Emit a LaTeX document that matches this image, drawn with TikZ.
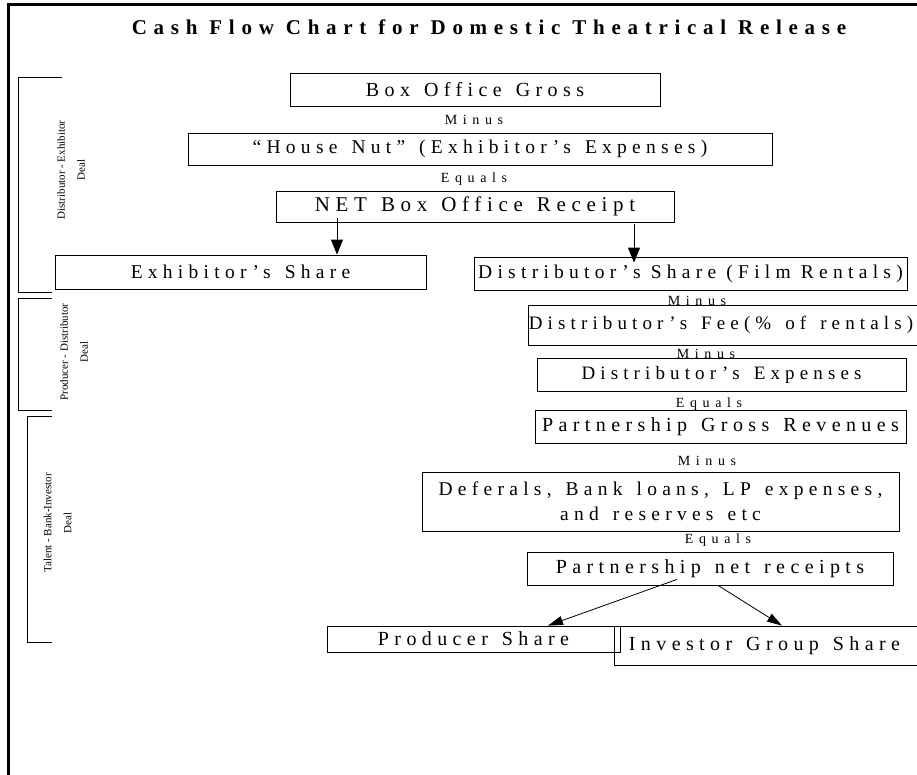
\documentclass[tikz,border=0pt]{standalone}
\usepackage{fontspec}
\setmainfont{Liberation Serif}
\newfontfamily\spacedfont[LetterSpace=27]{Liberation Serif}
\newfontfamily\opfont[LetterSpace=40]{Liberation Serif}
\newfontfamily\headfont[LetterSpace=32]{Liberation Serif}
\usetikzlibrary{arrows.meta}
\newcommand\nb[1]{\makebox[0pt][c]{#1}}
% box lettering at a given size, with widened word gaps
\newcommand\boxsize[1]{\spacedfont\fontsize{#1}{25}\selectfont\spaceskip=14pt\relax}
% same lettering with the font's own word gaps
\newcommand\tightsize[1]{\spacedfont\fontsize{#1}{25}\selectfont}
\tikzset{
  flowbox/.style={draw=black, line width=0.8pt, inner sep=0pt, anchor=center,
    font=\boxsize{20}},
  oplabel/.style={inner sep=0pt, anchor=center, font=\opfont\fontsize{14}{16}\selectfont},
  deallabel/.style={inner sep=0pt, anchor=center, rotate=90, align=center,
    font=\fontsize{11}{20}\selectfont},
  bracket/.style={draw=black, line width=0.8pt},
  bigarrow/.style={draw=black, line width=0.9pt, -{Triangle[length=15pt,width=12pt]}},
  smallarrow/.style={draw=black, line width=0.8pt, -{Triangle[length=15pt,width=9pt]}},
  frame/.style={draw=black, line width=3pt}
}
\begin{document}
\begin{tikzpicture}[x=1pt, y=-1pt]
\useasboundingbox (0,0) rectangle (917,775);
% outer frame: left and top edges
\draw[frame] (8,775) -- (8,5) -- (917,5);

% title
\node[inner sep=0pt, font=\headfont\bfseries\fontsize{21}{24}\selectfont] (title) at (489,27)
  {Cash Flow Chart for Domestic Theatrical Release};

% flow boxes
\node[flowbox, minimum width=370pt, minimum height=33pt] (bog) at (475,89.5) {\nb{Box Office Gross}};
\node[oplabel] (m1) at (474,120) {Minus};
\node[flowbox, minimum width=584pt, minimum height=32pt, font=\boxsize{19.5}] (nut) at (480,149) {\nb{“House Nut” (Exhibitor’s Expenses)}};
\node[oplabel] (e1) at (474,179) {Equals};
\node[flowbox, minimum width=398pt, minimum height=31pt, font=\boxsize{21}] (net) at (475,206.5) {\nb{NET Box Office Receipt}};

\node[flowbox, minimum width=371pt, minimum height=34pt, font=\boxsize{19.5}] (exh) at (240.5,272) {\nb{Exhibitor’s Share}};
\node[flowbox, minimum width=433pt, minimum height=33pt, font=\tightsize{19.5}] (dsh) at (690.5,273.5) {\nb{Distributor’s Share (Film Rentals)}};

\node[oplabel] (m2) at (697,301) {Minus};
\node[flowbox, minimum width=402pt, minimum height=40pt, font=\boxsize{19}] (fee) at (729,325) {\nb{\hspace{-16pt}Distributor’s Fee(\% of rentals)}};
\node[oplabel] (m3) at (706,354) {Minus};
\node[flowbox, minimum width=369pt, minimum height=33pt, font=\boxsize{19}] (dexp) at (721.5,374.5) {\nb{Distributor’s Expenses}};
\node[oplabel] (e2) at (709,404) {Equals};
\node[flowbox, minimum width=371pt, minimum height=33pt] (pgr) at (720.5,426.5) {\nb{Partnership Gross Revenues}};
\node[oplabel] (m4) at (707,461) {Minus};
\node[flowbox, minimum width=477pt, minimum height=59pt, align=center, font=\boxsize{19.5}] (def) at (660.5,501.5)
  {Deferals, Bank loans, LP expenses,\\and reserves etc};
\node[oplabel] (e3) at (718,540) {Equals};
\node[flowbox, minimum width=366pt, minimum height=33pt] (pnr) at (710,568.5) {\nb{Partnership net receipts}};

\node[flowbox, minimum width=293pt, minimum height=26pt] (prod) at (473.5,639) {\nb{Producer Share}};
\node[flowbox, minimum width=316pt, minimum height=39pt] (inv) at (772,645.5) {\nb{\hspace{-15pt}Investor Group Share}};

% connectors
\coordinate (a1) at (337,218);
\coordinate (a2) at (634,224);
\draw[bigarrow] (a1) -- (a1 |- exh.north);
\draw[bigarrow] (a2) -- ([yshift=-6pt]dsh.north -| a2);
\draw[smallarrow] ([xshift=-33pt,yshift=6pt]pnr.south) -- ([xshift=74.5pt]prod.north);
\draw[smallarrow] ([xshift=8pt]pnr.south) -- ([xshift=10pt]inv.north);

% deal brackets
\draw[bracket] (62,77) -- (18,77) -- (18,292) -- (52,292);
\draw[bracket] (52,298) -- (18,298) -- (18,410) -- (52,410);
\draw[bracket] (52,416) -- (27,416) -- (27,642) -- (52,642);
\node[deallabel] (d1) at (71,170) {Distributor - Exhibitor\\Deal};
\node[deallabel] (d2) at (74,352) {Producer - Distributor\\Deal};
\node[deallabel] (d3) at (57.5,523) {Talent - Bank-Investor\\Deal};
\end{tikzpicture}
\end{document}
